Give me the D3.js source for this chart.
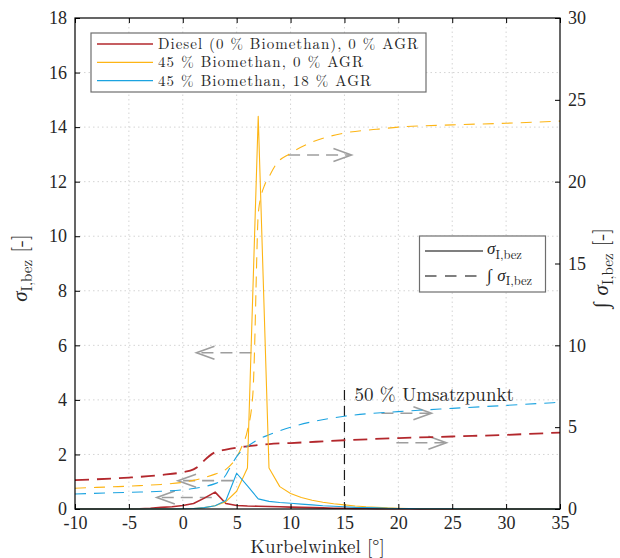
<!DOCTYPE html>
<html><head><meta charset="utf-8">
<script src="https://cdn.jsdelivr.net/npm/d3@7"></script>
<style>
body{margin:0;background:#fff;}
text{font-family:"Latin Modern Roman","CMU Serif","Liberation Serif",serif;fill:#262626;}
</style></head>
<body><svg id="c" width="620" height="558"></svg>
<script>
// ---- data ----
const crankAngle = [-10,-9,-8,-7,-6,-5,-4,-3,-2,-1,0,1,2,3,4,5,6,7,8,9,10,11,12,13,14,15,16,17,18,19,20,21,22,23,24,25,26,27,28,29,30,31,32,33,34,35];
const sigmaDiesel = [0,0,0,0,0,0,0.01,0.03,0.06,0.08,0.13,0.2,0.4,0.62,0.2,0.13,0.11,0.1,0.09,0.08,0.07,0.06,0.05,0.04,0.03,0.03,0.02,0.02,0.01,0.01,0.01,0.01,0,0,0,0,0,0,0,0,0,0,0,0,0,0];
const sigmaBio45 = [0,0,0,0,0,0,0,0,0,0,0.01,0.02,0.05,0.12,0.27,0.65,1.5,14.4,1.5,0.82,0.57,0.42,0.32,0.25,0.19,0.15,0.11,0.08,0.06,0.04,0.03,0.02,0.02,0.01,0.01,0.01,0,0,0,0,0,0,0,0,0,0];
const sigmaBio45AGR = [0,0,0,0,0,0,0,0,0,0,0.01,0.02,0.05,0.12,0.31,1.31,0.85,0.37,0.28,0.24,0.21,0.18,0.15,0.12,0.1,0.08,0.06,0.05,0.04,0.03,0.02,0.02,0.01,0.01,0.01,0.01,0,0,0,0,0,0,0,0,0,0];

const intAngleDiesel = [-10,-5,-2,0,1,1.5,2,3,4,5,6,8,10,15,20,25,30,35];
const intDiesel = [1.77,1.92,2.08,2.25,2.42,2.63,2.97,3.47,3.63,3.75,3.83,3.97,4.03,4.2,4.33,4.43,4.53,4.67];
const intAngleBio45 = [-10,-8,-6,-4,-2,0,1,2,3,4,5,5.5,6,6.5,6.7,6.8,7,7.3,7.6,8,8.7,9.9,12,15,18,20,25,30,35];
const intBio45 = [1.27,1.32,1.37,1.43,1.5,1.63,1.75,1.92,2.13,2.42,3.17,3.85,4.8,7.0,10.75,13.6,18.0,19.2,19.8,20.3,21.1,21.7,22.42,22.97,23.2,23.33,23.47,23.57,23.7];
const intAngleBio45AGR = [-10,-5,-2,0,1,2,3,3.5,4,4.5,5,5.5,6,7,8,10,12,15,20,25,30,35];
const intBio45AGR = [0.92,1.02,1.08,1.17,1.25,1.37,1.55,1.7,2.08,2.67,3.2,3.58,3.83,4.25,4.53,5.0,5.33,5.67,5.95,6.15,6.33,6.52];

const seriesNames = ["Diesel (0 % Biomethan), 0 % AGR","45 % Biomethan, 0 % AGR","45 % Biomethan, 18 % AGR"];
const xTicks = [-10,-5,0,5,10,15,20,25,30,35];
const yLeftTicks = [0,2,4,6,8,10,12,14,16,18];
const yRightTicks = [0,5,10,15,20,25,30];
const markerAngle = 15, markerTop = 4.36;
const markerLabel = "50 % Umsatzpunkt";
// arrows: [x0, x1(tip), y (left axis units)]
const arrows = [[6.37,1.27,5.73],[9.77,15.65,12.98],[19.82,24.46,2.43],[18.43,23.07,3.51],[4.67,-0.44,1.04],[2.69,-2.41,0.42]];

// ---- chart ----
const colors = ["#B3282D","#FDB515","#1BA3E0"];
const widths = [1.6,1.1,1.1];
const legendTextWidths = [260,205,213];
const L=75,R=560,T=18,B=509;
const svg = d3.select("#c");
const x = d3.scaleLinear().domain([-10,35]).range([L,R]);
const yL = d3.scaleLinear().domain([0,18]).range([B,T]);
const yR = d3.scaleLinear().domain([0,30]).range([B,T]);

// grid
const g = svg.append("g").attr("stroke","#d4d4d4").attr("stroke-width",1).attr("stroke-dasharray","1.5,3");
xTicks.slice(1,-1).forEach(t=>g.append("line").attr("x1",x(t)).attr("x2",x(t)).attr("y1",T).attr("y2",B));
yLeftTicks.slice(1,-1).forEach(t=>g.append("line").attr("x1",L).attr("x2",R).attr("y1",yL(t)).attr("y2",yL(t)));

// gray arrows
const ag = svg.append("g").attr("stroke","#9e9e9e").attr("stroke-width",1.6).attr("fill","none");
arrows.forEach(a=>{
  const x0=x(a[0]), x1=x(a[1]), yy=yL(a[2]), dir=Math.sign(x1-x0);
  ag.append("line").attr("x1",x0).attr("x2",x1-dir*2).attr("y1",yy).attr("y2",yy).attr("stroke-dasharray","12,7");
  ag.append("path").attr("d",`M${x1-dir*18},${yy-6.5}L${x1},${yy}L${x1-dir*18},${yy+6.5}`);
});

// marker line
svg.append("line").attr("x1",x(markerAngle)).attr("x2",x(markerAngle)).attr("y1",yL(markerTop)).attr("y2",yL(0))
  .attr("stroke","#1a1a1a").attr("stroke-width",1.2).attr("stroke-dasharray","10,6");
svg.append("text").attr("x",x(markerAngle)+10).attr("y",yL(markerTop)+11).attr("font-size",19).text(markerLabel);

// integral (dashed) lines
const intSets = [[intAngleDiesel,intDiesel],[intAngleBio45,intBio45],[intAngleBio45AGR,intBio45AGR]];
const lineR = d3.line().x(d=>x(d[0])).y(d=>yR(d[1])).curve(d3.curveMonotoneX);
intSets.forEach((s,i)=>{
  svg.append("path").datum(s[0].map((a,j)=>[a,s[1][j]])).attr("d",lineR).attr("fill","none")
    .attr("stroke",colors[i]).attr("stroke-width",i===0?1.8:1.1).attr("stroke-dasharray",i===0?"14,8":"11,8");
});
// sigma (solid) lines
const lineL = d3.line().x(d=>x(d[0])).y(d=>yL(d[1]));
[sigmaDiesel,sigmaBio45,sigmaBio45AGR].forEach((s,i)=>{
  svg.append("path").datum(crankAngle.map((a,j)=>[a,s[j]])).attr("d",lineL).attr("fill","none")
    .attr("stroke",colors[i]).attr("stroke-width",widths[i]).attr("stroke-linejoin","round");
});

// axes
const fmt = d=>String(d);
function style(sel){sel.select(".domain").remove();sel.selectAll("line").attr("stroke","#000");sel.selectAll("text").attr("font-size",18).attr("fill","#262626").style("font-family",'"Liberation Serif",serif');}
svg.append("g").attr("transform",`translate(0,${B})`).call(d3.axisBottom(x).tickValues(xTicks).tickFormat(fmt).tickSizeInner(-5).tickSizeOuter(0).tickPadding(7)).call(style);
svg.append("g").attr("transform",`translate(0,${T})`).call(d3.axisTop(x).tickValues(xTicks).tickSizeInner(-5).tickSizeOuter(0).tickFormat("")).call(style);
svg.append("g").attr("transform",`translate(${L},0)`).call(d3.axisLeft(yL).tickValues(yLeftTicks).tickFormat(fmt).tickSizeInner(-5).tickSizeOuter(0).tickPadding(8)).call(style);
svg.append("g").attr("transform",`translate(${R},0)`).call(d3.axisRight(yR).tickValues(yRightTicks).tickFormat(fmt).tickSizeInner(-5).tickSizeOuter(0).tickPadding(8)).call(style);
svg.append("rect").attr("x",L).attr("y",T).attr("width",R-L).attr("height",B-T).attr("fill","none").attr("stroke","#000").attr("stroke-width",1.2);

// axis labels
svg.append("text").attr("x",(L+R)/2).attr("y",553).attr("text-anchor","middle").attr("font-size",19).text("Kurbelwinkel [°]");
const yl = svg.append("text").attr("transform","translate(27,268) rotate(-90)").attr("text-anchor","middle").attr("font-size",21);
yl.append("tspan").attr("font-style","italic").text("σ");
yl.append("tspan").attr("font-size",15).attr("dy",5).text("I,bez");
yl.append("tspan").attr("dy",-5).text(" [-]");
const yr = svg.append("text").attr("transform","translate(608,268) rotate(-90)").attr("text-anchor","middle").attr("font-size",21);
yr.append("tspan").text("∫ ");
yr.append("tspan").attr("font-style","italic").text("σ");
yr.append("tspan").attr("font-size",15).attr("dy",5).text("I,bez");
yr.append("tspan").attr("dy",-5).text(" [-]");

// legend 1
const lg = svg.append("g");
lg.append("rect").attr("x",91).attr("y",33).attr("width",335).attr("height",59).attr("fill","#fff").attr("stroke","#6e6e6e").attr("stroke-width",1.2);
seriesNames.forEach((n,i)=>{
  const yy = 44 + i*18.3;
  lg.append("line").attr("x1",97).attr("x2",153).attr("y1",yy).attr("y2",yy).attr("stroke",colors[i]).attr("stroke-width",1.3);
  lg.append("text").attr("x",158).attr("y",yy+5).attr("font-size",15)
    .attr("textLength",legendTextWidths[i]).attr("lengthAdjust","spacing").text(n);
});
// legend 2
const l2 = svg.append("g");
l2.append("rect").attr("x",419.5).attr("y",236).attr("width",126).attr("height",56).attr("fill","#fff").attr("stroke","#6e6e6e").attr("stroke-width",1.2);
l2.append("line").attr("x1",425).attr("x2",483).attr("y1",251).attr("y2",251).attr("stroke","#000").attr("stroke-width",1.1);
l2.append("line").attr("x1",425).attr("x2",483).attr("y1",276).attr("y2",276).attr("stroke","#000").attr("stroke-width",1.1).attr("stroke-dasharray","11.5,8.5");
const t1 = l2.append("text").attr("x",487).attr("y",254).attr("font-size",17);
t1.append("tspan").attr("font-style","italic").text("σ");
t1.append("tspan").attr("font-size",12.5).attr("dy",4.5).text("I,bez");
const t2 = l2.append("text").attr("x",487).attr("y",280.5).attr("font-size",17);
t2.append("tspan").text("∫ ");
t2.append("tspan").attr("font-style","italic").text("σ");
t2.append("tspan").attr("font-size",12.5).attr("dy",4.5).text("I,bez");
</script></body></html>
